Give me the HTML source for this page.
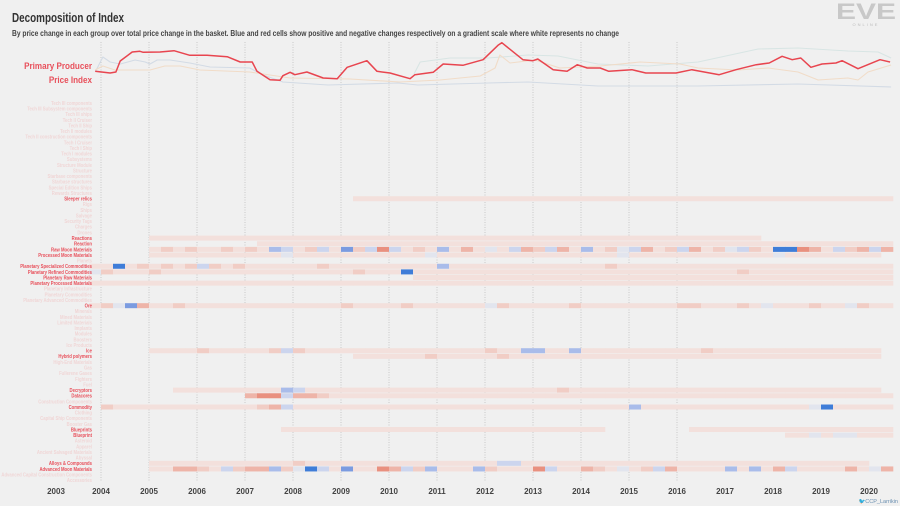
<!DOCTYPE html>
<html><head><meta charset="utf-8">
<style>
html,body{margin:0;padding:0;background:#f0f0f0;}
svg{display:block;font-family:"Liberation Sans Narrow","Liberation Sans",sans-serif;}
</style></head>
<body>
<svg id="chart" width="900" height="506" viewBox="0 0 900 506">
  <rect x="0" y="0" width="900" height="506" fill="#f0f0f0"/>
  <text x="12" y="22" font-size="13" font-weight="bold" fill="#333" textLength="112" lengthAdjust="spacingAndGlyphs">Decomposition of Index</text>
  <text x="12" y="36" font-size="8" font-weight="bold" fill="#444" textLength="607" lengthAdjust="spacingAndGlyphs">By price change in each group over total price change in the basket. Blue and red cells show positive and negative changes respectively on a gradient scale where white represents no change</text>
  <g>
    <text x="866" y="19" font-size="22" font-weight="bold" fill="#c8c8c8" text-anchor="middle" textLength="60" lengthAdjust="spacingAndGlyphs">EVE</text>
    <text x="866" y="26" font-size="4" fill="#bbb" text-anchor="middle" letter-spacing="2">ONLINE</text>
  </g>
  <g id="grid"></g>
  <g id="heat"></g>
  <g id="lines"></g>
  <g id="labels" transform="translate(92,0) scale(0.82,1) translate(-92,0)"></g>
  <g id="xaxis"></g>
  <g transform="translate(92,0) scale(0.9,1) translate(-92,0)">
  <text x="92" y="69" font-size="9" font-weight="bold" fill="#e8505b" text-anchor="end">Primary Producer</text>
  <text x="92" y="83" font-size="9" font-weight="bold" fill="#e8505b" text-anchor="end">Price Index</text>
  </g>
  <text x="898" y="503" font-size="5.5" fill="#6a8fb0" text-anchor="end">🐦CCP_Larrikin</text>
</svg>
<script>
// ---- data ----
const years = [2003,2004,2005,2006,2007,2008,2009,2010,2011,2012,2013,2014,2015,2016,2017,2018,2019,2020];
const gridYears = [2004,2005,2006,2007,2008,2009,2010,2011,2012,2013,2014,2015,2016];
const rowNames = ["Tech III components","Tech III Subsystem components","Tech III ships","Tech II Cruiser","Tech II Ship","Tech II modules","Tech II construction components","Tech I Cruiser","Tech I Ship","Tech I modules","Subsystems","Structure Module","Structure","Starbase components","Starbase structures","Special Edition Ships","Rewards Structures","Sleeper relics","Rigs","Ships","Salvage","Security Tags","Charges","Drones","Reactions","Reaction","Raw Moon Materials","Processed Moon Materials","Planets","Planetary Specialized Commodities","Planetary Refined Commodities","Planetary Raw Materials","Planetary Processed Materials","Planetary Infrastructure","Planetary Commodities","Planetary Advanced Commodities","Ore","Minerals","Mined Materials","Limited Materials","Implants","Modules","Boosters","Ice Products","Ice","Hybrid polymers","High-End Materials","Gas","Fullerene Gases","Fighters","Fuel","Decryptors","Datacores","Construction Components","Commodity","Clothing","Capital Ship Components","Booster Gas","Blueprints","Blueprint","Asteroid","Apparel","Ancient Salvaged Materials","Abyssal","Alloys & Compounds","Advanced Moon Materials","Advanced Capital Construction Components","Accessories"];
// quarterly cells from 2003Q4; '.' none, 1-5 red (negative), a-e blue (positive)
const heatRows = [17,24,25,26,27,29,30,31,32,36,44,45,51,52,54,58,59,64,65];
const heatValues = [
 "......................1111111111111111111111111111111111111111111111",
 ".....111111111111111111111111111111111111111111111111111...........",
 "..............11111111111111111111111111111111111111111111111111111",
 ".....1212112121cb12b1d2b4b121c131a1b32b31c12ab312b312ab21ee431b23b3",
 ".....11111111111a11111111111a111111111111111a111111111111a11111111",
 "11e121212b2121111112111111111c1111111111111211111111111111111111111",
 "a2111211111111111111112111e1111111111111111111111111112111111111111",
 "...........................11111111111111111111111111111111111111111",
 "1111111111111111111111111111111111111111111111111111111111111111111",
 "12ad31121111111111111211112111111a2111112111111112211121a111211a211",
 ".....11112111112b2111111111111111211cc11c1111111111211111111111111",
 "......................11111121111121111111111111111111111111111111",
 ".......111111111cb111111111111111111111211111111111111111111111111",
 ".............344b33211111111111111111111111111111111111111111111111",
 ".211111111111123b1111111111111111111111111111c11111111111111ae11111",
 "................111111111111111111111111111.......111111111111111111",
 "..........................................................11a1aa111",
 ".....11111111111121111111111111111bb11111111111111111111111111111",
 ".....113321b233c2aeb1d1143b2c111c21114b11321a12b31111c1c13b111131a3"
];
// top chart: Primary Producer Price Index (red) and faint comparison lines; values = index level
const redT = [2003.88,2004.19,2004.31,2004.40,2004.65,2004.81,2004.88,2005.23,2005.52,2005.85,2006.21,2006.63,2006.90,2007.15,2007.25,2007.52,2007.73,2007.79,2007.94,2008.04,2008.29,2008.63,2008.92,2009.13,2009.54,2009.75,2010.02,2010.44,2010.54,2010.92,2011.13,2011.54,2011.96,2012.27,2012.35,2012.79,2013.00,2013.10,2013.42,2013.71,2013.92,2014.13,2014.40,2014.58,2015.06,2015.35,2015.98,2016.31,2016.88,2017.23,2017.65,2017.92,2018.19,2018.40,2018.58,2018.79,2019.02,2019.31,2019.44,2019.77,2020.23,2020.44];
const redV = [28.7,27,28,39,48,48.7,47.7,48,49.3,44.7,44.7,43.3,38,38,28.7,20.3,19.7,24.3,27.7,25.3,28,22,21.3,32.7,39.3,28.7,27,21.3,25.3,27.7,36,34.7,40.3,54.7,57.3,40.3,39.3,41,30.3,28.7,35.3,32,32,28.7,30.3,27,27,30.3,25.3,30.3,35.3,37,43.7,40.3,42,32.7,36,37,39.3,31.3,40.3,38];
const blueT = [2003.88,2004.04,2004.19,2004.40,2004.71,2004.92,2005.02,2005.17,2005.44,2005.85,2006.27,2007.10,2007.38,2007.79,2008.73,2010.19,2010.60,2012.06,2012.90,2014.35,2016.44,2018.52,2020.46];
const blueV = [28,43,38,36,40,38,36,40,40,37,33,32,25,18,15,17,15,17,18,14,14,16,13];
const tealT = [2010.52,2010.65,2011.27,2012.06,2012.90,2013.52,2014.35,2015.40,2016.44,2017.69,2018.52,2019.56,2020.19,2020.46];
const tealV = [26,38,42,42,45,44,36,34,38,51,52,49,48,42];
const orangeT = [2003.88,2004.04,2004.29,2005.02,2005.33,2005.65,2006.06,2007.10,2007.94,2009.19,2010.23,2011.06,2011.90,2012.21,2012.31,2012.52,2013.04,2013.56,2014.40,2015.23,2016.06,2016.44,2017.27,2017.90,2018.52,2018.94,2019.56,2019.77,2019.98,2020.46];
const orangeV = [30,34,30,30,34,34,30,28,22,21,18,20,24,32,45,37,40,32,34,38,36,32,30,32,28,20,22,20,28,35];

// ---- scales ----
const X0 = 101, PX_PER_YEAR = 48;
function xOf(t){ return X0 + (t-2004)*PX_PER_YEAR; }
function yLine(v){ return 100 - v; }
const ROW0 = 103, ROW_STEP = 5.63;
function yRow(i){ return ROW0 + i*ROW_STEP; }
const Q0 = 2003.75;
const redCols = {"1":"#f3e0dc","2":"#f1cdc5","3":"#eeb4a8","4":"#e9907f","5":"#e06050"};
const blueCols = {"a":"#e2e5ee","b":"#ccd5ee","c":"#a9bcea","d":"#7b9be0","e":"#3f7dd8"};
const NS = "http://www.w3.org/2000/svg";
function mk(tag, attrs, parent){ const e=document.createElementNS(NS,tag); for(const k in attrs) e.setAttribute(k,attrs[k]); parent.appendChild(e); return e; }

// grid
const grid = document.getElementById('grid');
gridYears.forEach(y=>{
  const l = mk('line',{x1:xOf(y),x2:xOf(y),y1:42,y2:482,stroke:'#b8b8b8','stroke-width':0.7,'stroke-dasharray':'1,1.5'},grid);
  
  
});

// heatmap
const heat = document.getElementById('heat');
heatRows.forEach((ri,k)=>{
  const s = heatValues[k];
  for(let q=0;q<s.length && q<67;q++){
    const c = s[q];
    const col = redCols[c] || blueCols[c];
    if(!col) continue;
    const r = mk('rect',{x:xOf(Q0+q*0.25),y:yRow(ri)-2.5,width:PX_PER_YEAR/4+0.3,height:5,fill:col},heat);
    
    
  }
});

// lines
const lines = document.getElementById('lines');
function drawLine(T,V,color,w,name){
  const d = T.map((t,i)=>(i?'L':'M')+xOf(t).toFixed(1)+','+yLine(V[i]).toFixed(1)).join(' ');
  const p = mk('path',{d:d,fill:'none',stroke:color,'stroke-width':w,'stroke-linejoin':'round'},lines);
  
  
}
drawLine(blueT,blueV,'#d3dbe5',1.1,'line-blue');
drawLine(tealT,tealV,'#d8e5e4',1.1,'line-teal');
drawLine(orangeT,orangeV,'#f1dcc8',1.1,'line-orange');
drawLine(redT,redV,'#e8454f',1.5,'line-primary-producer-index');

// labels
const labels = document.getElementById('labels');
rowNames.forEach((n,i)=>{
  const isB = heatRows.includes(i) && i!==31 || i===31;
  const t = mk('text',{x:92,y:yRow(i)+1.9,'font-size':5.2,'font-weight':'bold','text-anchor':'end',fill:heatRows.includes(i)?'#e8505b':'#f0d6d6'},labels);
  t.textContent = n;
  
  
});

// x axis
const xa = document.getElementById('xaxis');
years.forEach(y=>{
  const t = mk('text',{x:xOf(y)-(y===2003?-3:0),y:494,'font-size':8,'font-weight':'bold','text-anchor':'middle',fill:'#444'},xa);
  t.textContent = y;
  
  
});
</script>
</body></html>
